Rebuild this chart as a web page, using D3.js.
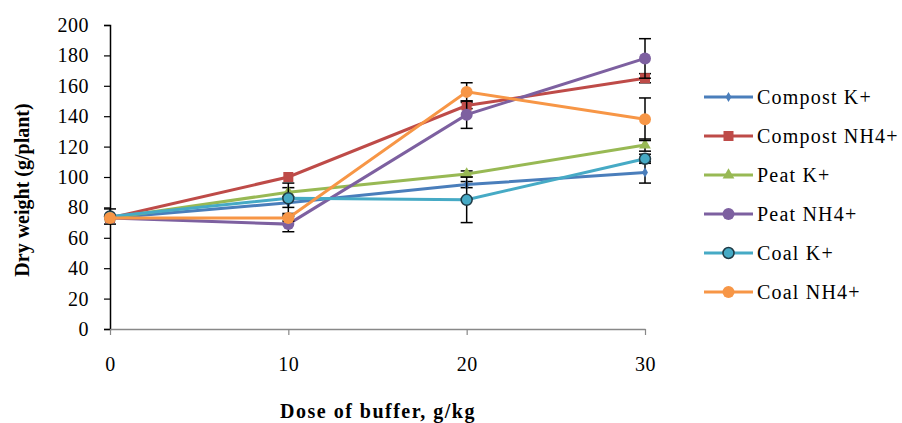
<!DOCTYPE html>
<html>
<head>
<meta charset="utf-8">
<script src="https://cdn.jsdelivr.net/npm/d3@7"></script>
<style>
  body { margin: 0; background: #fff; }
  svg { font-family: "Liberation Serif", "Times New Roman", serif; }
</style>
</head>
<body>
<svg id="chart" width="902" height="423"></svg>
<script>
const doses = [0, 10, 20, 30];
const yTicks = [0, 20, 40, 60, 80, 100, 120, 140, 160, 180, 200];

const seriesNames = ['Compost K+', 'Compost NH4+', 'Peat K+', 'Peat NH4+', 'Coal K+', 'Coal NH4+'];
const compostK = [73, 83, 95, 103];
const compostNH4 = [73, 100, 147, 165];
const peatK = [73, 90, 102, 121];
const peatNH4 = [73, 69, 141, 178];
const coalK = [74, 86, 85, 112];
const coalNH4 = [73, 73, 156, 138];

const compostKErr = [0, 3, 2, 7];
const compostNH4Err = [0, 0, 2, 3];
const peatKErr = [0, 3, 2, 4];
const peatNH4Err = [0, 5, 9, 13];
const coalKErr = [5, 10, 15, 3];
const coalNH4Err = [0, 2, 6, 14];

const colors = ['#4a7ebb', '#be4b48', '#98b954', '#7d60a0', '#46aac5', '#f79646'];
const shapes = ['diamond', 'square', 'triangle', 'circle', 'ring', 'circle'];

const values = [compostK, compostNH4, peatK, peatNH4, coalK, coalNH4];
const errs = [compostKErr, compostNH4Err, peatKErr, peatNH4Err, coalKErr, coalNH4Err];

const series = seriesNames.map((name, i) => ({
  name, color: colors[i], shape: shapes[i],
  pts: doses.map((d, j) => ({ x: d, y: values[i][j], e: errs[i][j] }))
}));

const svg = d3.select('#chart');

const x = d3.scaleLinear().domain([0, 30]).range([110, 645]);
const y = d3.scaleLinear().domain([0, 200]).range([329, 25]);

// y axis
const yAxis = svg.append('g')
  .attr('transform', 'translate(110,0)')
  .call(d3.axisLeft(y).tickValues(yTicks).tickSize(6).tickPadding(15));
yAxis.select('.domain').attr('stroke', '#000').attr('stroke-width', 1.5);
yAxis.selectAll('.tick line').attr('stroke', '#000').attr('stroke-width', 1.2);
yAxis.selectAll('text').attr('font-size', 20).attr('font-family', '"Liberation Serif", serif')
  .attr('fill', '#000').attr('letter-spacing', 0.5);

// x axis
const xAxis = svg.append('g')
  .attr('transform', 'translate(0,329)')
  .call(d3.axisBottom(x).tickValues(doses).tickSize(6).tickPadding(22).tickSizeOuter(0));
xAxis.select('.domain').attr('stroke', '#888').attr('stroke-width', 1.5);
xAxis.selectAll('.tick line').attr('stroke', '#888').attr('stroke-width', 1.2);
xAxis.selectAll('text').attr('font-size', 20).attr('font-family', '"Liberation Serif", serif')
  .attr('fill', '#000').attr('letter-spacing', 0.5);

// titles
svg.append('text')
  .attr('transform', 'translate(29,190) rotate(-90)')
  .attr('text-anchor', 'middle')
  .attr('font-weight', 'bold')
  .attr('font-size', 20)
  .text('Dry weight (g/plant)');

svg.append('text')
  .attr('x', 378).attr('y', 418)
  .attr('text-anchor', 'middle')
  .attr('font-weight', 'bold')
  .attr('font-size', 20)
  .attr('letter-spacing', 1.5)
  .text('Dose of buffer, g/kg');

const line = d3.line().x(d => x(d.x)).y(d => y(d.y));

function marker(g, shape, color, cx, cy) {
  if (shape === 'diamond') {
    g.append('path').attr('d', d3.symbol(d3.symbolDiamond, 30)()).attr('transform', `translate(${cx},${cy})`).attr('fill', color);
  } else if (shape === 'square') {
    g.append('rect').attr('x', cx - 5).attr('y', cy - 5).attr('width', 10).attr('height', 10).attr('fill', color);
  } else if (shape === 'triangle') {
    g.append('path').attr('d', d3.symbol(d3.symbolTriangle, 60)()).attr('transform', `translate(${cx},${cy})`).attr('fill', color);
  } else if (shape === 'ring') {
    g.append('circle').attr('cx', cx).attr('cy', cy).attr('r', 5.5).attr('fill', color).attr('stroke', '#1f3a45').attr('stroke-width', 1.5);
  } else {
    g.append('circle').attr('cx', cx).attr('cy', cy).attr('r', 6).attr('fill', color);
  }
}

series.forEach(s => {
  const g = svg.append('g');
  // error bars
  s.pts.filter(p => p.e > 0).forEach(p => {
    const cx = x(p.x);
    g.append('line').attr('x1', cx).attr('x2', cx).attr('y1', y(p.y - p.e)).attr('y2', y(p.y + p.e))
      .attr('stroke', '#000').attr('stroke-width', 1.5);
    [p.y - p.e, p.y + p.e].forEach(v => {
      g.append('line').attr('x1', cx - 6).attr('x2', cx + 6).attr('y1', y(v)).attr('y2', y(v))
        .attr('stroke', '#000').attr('stroke-width', 1.5);
    });
  });
  g.append('path').datum(s.pts).attr('d', line)
    .attr('fill', 'none').attr('stroke', s.color).attr('stroke-width', 3);
  s.pts.forEach(p => marker(g, s.shape, s.color, x(p.x), y(p.y)));
});

// legend
const legend = svg.append('g');
series.forEach((s, i) => {
  const ly = 97 + i * 39;
  legend.append('line').attr('x1', 704).attr('x2', 753).attr('y1', ly).attr('y2', ly)
    .attr('stroke', s.color).attr('stroke-width', 3);
  marker(legend, s.shape, s.color, 728.5, ly);
  legend.append('text').attr('x', 757).attr('y', ly + 7)
    .attr('font-size', 20).attr('letter-spacing', 1.2).text(s.name);
});
</script>
</body>
</html>
